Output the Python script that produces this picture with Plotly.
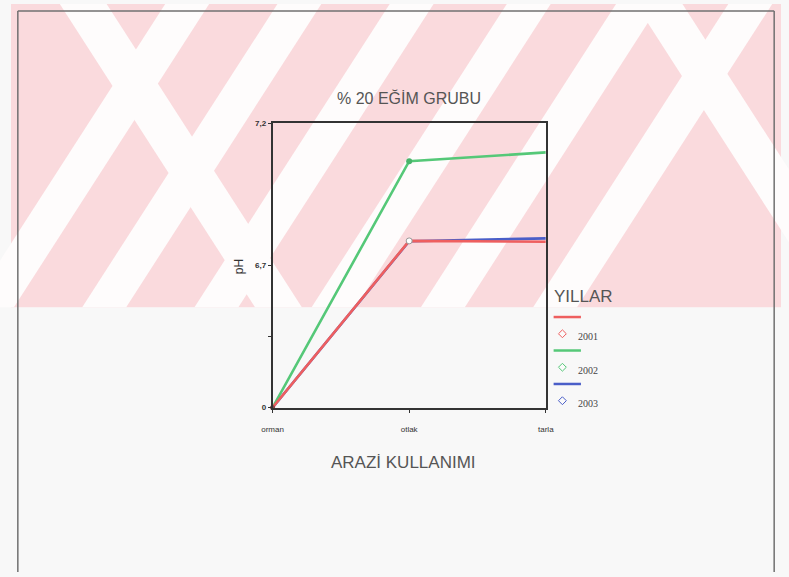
import plotly.graph_objects as go

# ---- data -------------------------------------------------------------
land_use = ["orman", "otlak", "tarla"]
ph_2001 = [0.0, 6.786, 6.783]
ph_2002 = [0.0, 7.066, 7.097]
ph_2003 = [0.0, 6.785, 6.795]
years = ["2001", "2002", "2003"]
colors = ["#ee5f5f", "#55c878", "#4a5ec8"]

y_tick_values = [0.0, 6.7, 7.2]
y_tick_labels = ["0", "6,7", "7,2"]

W, H = 789, 577


def axis_pos(v):
    """Broken pH scale: 0-6.7 fills the lower half, 6.7-7.2 the upper half."""
    if v <= 6.7:
        return v / 6.7 * 3.6
    return 3.6 + (v - 6.7) / 0.5 * 3.6


def px(x, y):
    """Pixel position -> paper coordinates."""
    return x / W, 1 - y / H


fig = go.Figure()

# lines, drawn blue first so that red sits on top where they overlap
for name, vals, col in [("2003", ph_2003, colors[2]),
                        ("2002", ph_2002, colors[1]),
                        ("2001", ph_2001, colors[0])]:
    fig.add_trace(go.Scatter(
        x=land_use, y=[axis_pos(v) for v in vals], name=name,
        mode="lines", line=dict(color=col, width=2.6),
        showlegend=False, cliponaxis=False,
    ))

# point markers
fig.add_trace(go.Scatter(x=[land_use[1]], y=[axis_pos(ph_2001[1])], mode="markers",
                         marker=dict(symbol="circle", size=6, color="white",
                                     line=dict(color="#999999", width=1)),
                         showlegend=False, cliponaxis=False))
fig.add_trace(go.Scatter(x=[land_use[1]], y=[axis_pos(ph_2002[1])], mode="markers",
                         marker=dict(symbol="circle", size=6, color="#49b46a"),
                         showlegend=False, cliponaxis=False))
fig.add_trace(go.Scatter(x=[land_use[0]], y=[axis_pos(ph_2001[0])], mode="markers",
                         marker=dict(symbol="circle", size=5, color="#884444"),
                         showlegend=False, cliponaxis=False))

shapes = []


def poly(points):
    pts = [px(x, y) for x, y in points]
    return "M " + " L ".join(f"{x:.4f},{y:.4f}" for x, y in pts) + " Z"


# watermark band: pink area crossed by white diagonal stripes
BAND = 308
pink = "#fadadd"
white = "#fefcfc"
shapes.append(dict(type="path", xref="paper", yref="paper", layer="below",
                   path=poly([(0, 0), (W, 0), (W, BAND), (0, BAND)]),
                   fillcolor=pink, line=dict(width=0)))
# "/" stripes: top-left x; each drifts 200 px left over the band
for x0 in [158, 273, 388, 508, 620, 735]:
    shapes.append(dict(type="path", xref="paper", yref="paper", layer="below",
                       path=poly([(x0, 0), (x0 + 45, 0), (x0 + 45 - 200, BAND),
                                  (x0 - 200, BAND)]),
                       fillcolor=white, line=dict(width=0)))
# "\" stripes
for x0 in [50, 640]:
    shapes.append(dict(type="path", xref="paper", yref="paper", layer="below",
                       path=poly([(x0, 0), (x0 + 48, 0), (x0 + 248, BAND), (x0 + 200, BAND)]),
                       fillcolor=white, line=dict(width=0)))

# outer frame (left, top and right edges)
for (xa, ya), (xb, yb) in [((7, H), (7, 7)), ((7, 7), (782, 7)), ((782, 7), (782, H))]:
    p0 = px(xa, ya)
    p1 = px(xb, yb)
    shapes.append(dict(type="line", xref="paper", yref="paper", layer="above",
                       x0=p0[0], y0=p0[1], x1=p1[0], y1=p1[1],
                       line=dict(color="#707070", width=1.5)))

# legend: line sample and diamond symbol for each year
annotations = []
leg_rows = [318, 352, 386]
for yr, col, ly in zip(years, colors, leg_rows):
    a0, b0 = px(556, ly)
    a1, _ = px(584, ly)
    shapes.append(dict(type="line", xref="paper", yref="paper", x0=a0, x1=a1,
                       y0=b0, y1=b0, line=dict(color=col, width=2.5)))
    cx, cy = 565, ly + 17
    shapes.append(dict(type="path", xref="paper", yref="paper",
                       path=poly([(cx, cy - 4), (cx + 4, cy), (cx, cy + 4), (cx - 4, cy)]),
                       fillcolor="rgba(255,255,255,0.4)", line=dict(color=col, width=1)))
    tx, ty = px(579, ly + 20)
    annotations.append(dict(text=yr, x=tx, y=ty, xref="paper", yref="paper",
                            xanchor="left", yanchor="middle", showarrow=False,
                            font=dict(family="Liberation Serif", size=10, color="#444444")))

tx, ty = px(554, 297)
annotations.append(dict(text="YILLAR", x=tx, y=ty, xref="paper", yref="paper",
                        xanchor="left", yanchor="middle", showarrow=False,
                        font=dict(family="Liberation Sans Narrow, Liberation Sans",
                                  size=17, color="#555555")))
tx, ty = px(408, 95)
annotations.append(dict(text="% 20 EĞİM GRUBU", x=tx, y=ty, xref="paper", yref="paper",
                        xanchor="center", yanchor="middle", showarrow=False,
                        font=dict(family="Liberation Sans", size=16, color="#555555")))
tx, ty = px(402, 466)
annotations.append(dict(text="ARAZİ KULLANIMI", x=tx, y=ty, xref="paper", yref="paper",
                        xanchor="center", yanchor="middle", showarrow=False,
                        font=dict(family="Liberation Sans Narrow, Liberation Sans",
                                  size=17, color="#555555")))
tx, ty = px(233, 267)
annotations.append(dict(text="pH", x=tx, y=ty, xref="paper", yref="paper",
                        xanchor="center", yanchor="middle", showarrow=False, textangle=-90,
                        font=dict(family="Liberation Sans", size=12, color="#333333")))

xd0, yd0 = px(268, 410)
xd1, yd1 = px(548, 121)

fig.update_layout(
    width=W, height=H,
    margin=dict(l=0, r=0, t=0, b=0),
    paper_bgcolor="#f8f8f8",
    plot_bgcolor="rgba(0,0,0,0)",
    showlegend=False,
    shapes=shapes,
    annotations=annotations,
    xaxis=dict(
        domain=[xd0, xd1], type="category", range=[0, 2],
        showgrid=False, zeroline=False, showline=True, mirror=True,
        linecolor="#333333", linewidth=1.5, ticks="outside", ticklen=4,
        tickcolor="#333333", ticklabelstandoff=9,
        tickfont=dict(family="Liberation Sans", size=8, color="#333333"),
    ),
    yaxis=dict(
        domain=[yd0, yd1], range=[0, 7.2],
        tickvals=[axis_pos(v) for v in y_tick_values] + [1.8],
        ticktext=[f"<b>{t}</b>" for t in y_tick_labels] + [""],
        showgrid=False, zeroline=False, showline=True, mirror=True,
        linecolor="#333333", linewidth=1.5, ticks="outside", ticklen=3,
        tickcolor="#333333",
        tickfont=dict(family="Liberation Sans", size=8, color="#333333"),
    ),
)

fig.write_html("out.html", config={"displayModeBar": False})
